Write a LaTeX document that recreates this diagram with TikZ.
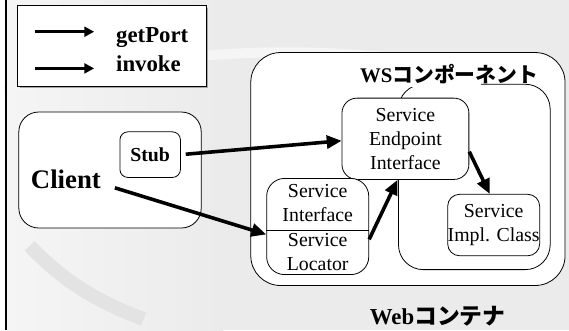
\documentclass[tikz,border=0pt]{standalone}
\usepackage{fontspec}
\setmainfont{Liberation Serif}
\newfontfamily\jpfont{Noto Sans CJK JP}
\usetikzlibrary{arrows.meta,shadows}

\definecolor{bggray}{RGB}{235,235,235}
\definecolor{bglight}{RGB}{245,245,245}
\definecolor{bgband}{RGB}{227,227,227}

\tikzset{
	box/.style={draw, line width=0.8pt, fill=white, rounded corners=#1, inner sep=0pt},
	box/.default=15pt,
	call/.style={line width=3.6pt, -{Triangle[length=15pt,width=13pt]}},
	keyarrow/.style={line width=3pt, -{Triangle[length=10pt,width=10pt]}},
	svc/.style={font=\fontsize{20}{24}\selectfont, align=center, inner sep=0pt},
}

\begin{document}
\begin{tikzpicture}[x=1pt, y=-1pt]
	% background
	\fill[bggray] (0,0) rectangle (569,333);
	\shade[left color=bglight, right color=bggray] (0,0) rectangle (220,333);
	\draw[bgband, line width=14pt] (25,248) .. controls (60,285) and (95,305) .. (140,322);
	\draw[bglight, line width=10pt] (0,92) .. controls (120,60) and (260,40) .. (420,62);
	\fill[black] (0,0) rectangle (2,333);
	\useasboundingbox (0,0) rectangle (569,333);

	% legend
	\node[draw, line width=1pt, fill=white, minimum width=190pt, minimum height=81pt,
		drop shadow={shadow xshift=2pt, shadow yshift=-2pt, fill=gray!70, opacity=1}]
		(legend) at (108,46.5) {};
	\coordinate (k1a) at (30,32);
	\coordinate (k1b) at (90,32);
	\coordinate (k2a) at (30,69);
	\coordinate (k2b) at (90,69);
	\draw[keyarrow] (k1a) -- (k1b);
	\draw[keyarrow] (k2a) -- (k2b);
	\node[anchor=base west, inner sep=0pt, font=\fontsize{23}{26}\selectfont\bfseries] (getport) at (112,43) {getPort};
	\node[anchor=base west, inner sep=0pt, font=\fontsize{23}{26}\selectfont\bfseries] (invoke) at (112,72) {invoke};

	% client side
	\node[box=20pt, minimum width=184pt, minimum height=117pt] (clientbox) at (106,171.5) {};
	\node[anchor=base west, inner sep=0pt, font=\fontsize{27}{30}\selectfont\bfseries] (client) at (26,190) {Client};
	\node[box=8pt, minimum width=61pt, minimum height=46pt, font=\fontsize{20}{24}\selectfont\bfseries] (stub) at (146.5,156) {Stub};

	% web container
	\node[box=30pt, minimum width=317pt, minimum height=235pt] (web) at (406.5,170.5) {};
	\node[box=25pt, minimum width=153pt, minimum height=187pt] (ws) at (473.5,178.5) {};
	\fill[white] (356,61) rectangle (480,88);
	\node[anchor=base west, inner sep=0pt, font=\fontsize{21}{24}\selectfont\bfseries] (wslabel) at (358,83) {WS{\jpfont コンポーネント}};

	\node[box=15pt, svc, minimum width=128pt, minimum height=82pt] (sei) at (404,140) {Service\\Endpoint\\Interface};
	\node[box=12pt, minimum width=92pt, minimum height=62pt, svc] (impl) at (493,227) {Service\\Impl. Class};
	\node[box=18pt, minimum width=103pt, minimum height=97pt] (sisl) at (315.5,228.5) {};
	\node[svc] (si) at (315.5,205) {Service\\Interface};
	\node[svc] (sl) at (315.5,254.5) {Service\\Locator};
	\draw[line width=0.8pt] (sisl.west |- 0,232) -- (sisl.east |- 0,232);

	\node[anchor=base west, inner sep=0pt, font=\fontsize{23}{26}\selectfont\bfseries] (weblabel) at (368,327) {Web{\jpfont コンテナ}};

	% calls
	\draw[call, shorten <=5pt] (stub.east) -- ([yshift=-2pt]sei.west);
	\draw[call] ([xshift=14pt,yshift=1pt]client.south east) -- ([yshift=-8pt]sisl.west);
	\draw[call] ([yshift=-13pt]sisl.east) -- ([xshift=-8pt]sei.south);
	\draw[call] ([yshift=-13pt]sei.east) -- ([xshift=-4pt]impl.north);
\end{tikzpicture}
\end{document}
